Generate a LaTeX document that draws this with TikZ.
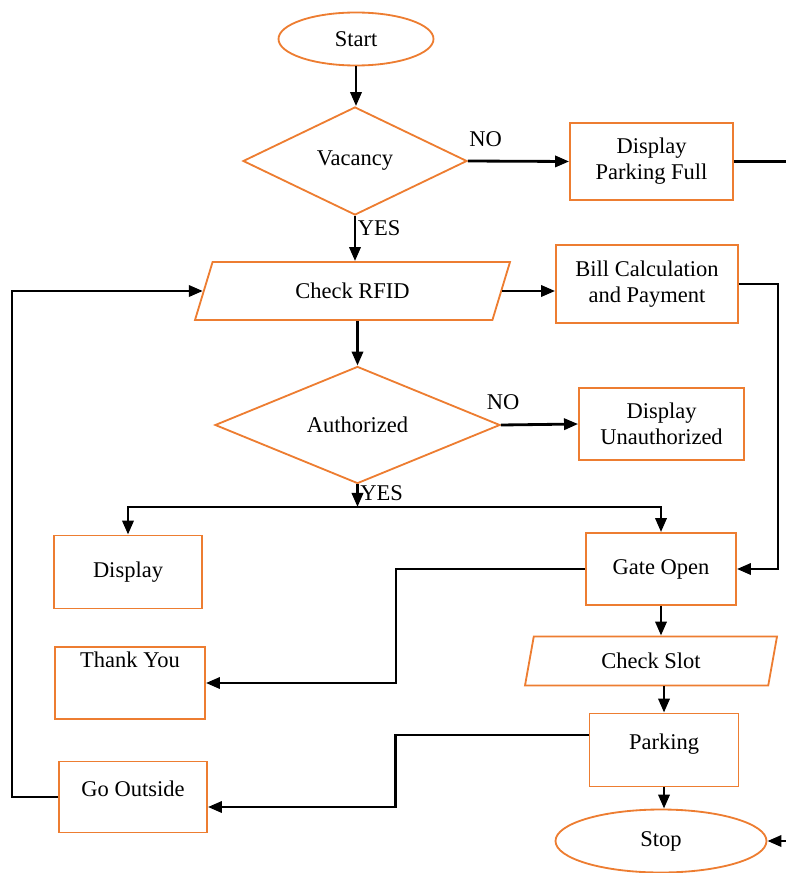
\documentclass[tikz,border=0pt]{standalone}
\usepackage{fontspec}
\setmainfont{Liberation Serif}
\usetikzlibrary{shapes.geometric,
                arrows.meta, % for triangle tips
                positioning}
\definecolor{boxorange}{RGB}{237,125,49}

\begin{document}
\begin{tikzpicture}[x=0.025cm, y=-0.025cm,
                    font=\fontsize{16}{18.5}\selectfont,
                    term/.style={draw=boxorange, line width=1.3pt, ellipse, inner sep=0},
                    decision/.style={draw=boxorange, line width=1.3pt, diamond, inner sep=0},
                    box/.style={draw=boxorange, line width=1.3pt, rectangle, align=center, inner sep=0},
                    io/.style={draw=boxorange, line width=1.3pt, trapezium, trapezium stretches body, inner sep=0},
                    arrow/.style={-{Triangle[length=10pt,width=8pt]}, line width=2pt},
                    answer/.style={inner sep=1pt}
                    ]
    \newdimen \pixel
    \pixel = 0.025cm
    \useasboundingbox (0,0) rectangle (785,873);
    %main column
    \node[term, minimum width=155\pixel, minimum height=53\pixel]  at (356,39)    (start){Start};
    \node[decision, minimum width=224\pixel, minimum height=108\pixel] at (355,161) (vacancy){Vacancy};
    \node[io, trapezium left angle=42, trapezium right angle=138,
          minimum width=315\pixel, minimum height=58\pixel]        at (352.5,291) (rfid){Check RFID};
    \node[decision, minimum width=285\pixel, minimum height=104\pixel] at (357.5,425) (auth){Authorized};
    %right column
    \node[box, minimum width=163\pixel, minimum height=77\pixel]   at (651.5,161.5) (full){Display\\Parking Full};
    \node[box, minimum width=182\pixel, minimum height=78\pixel]   at (647,284)   (bill){Bill Calculation\\and Payment};
    \node[box, minimum width=165\pixel, minimum height=72\pixel]   at (661.5,424) (unauth){Display\\Unauthorized};
    \node[box, minimum width=150\pixel, minimum height=72\pixel]   at (661,569)   (gate){Gate Open};
    \node[io, trapezium left angle=61, trapezium right angle=119,
          minimum width=252\pixel, minimum height=49\pixel]        at (651,661)   (slot){Check Slot};
    \node[box, minimum width=149\pixel, minimum height=73\pixel, text depth=16\pixel] at (664,750) (parking){Parking};
    \node[term, minimum width=211\pixel, minimum height=63\pixel]  at (661,841)   (stop){Stop};
    %left column
    \node[box, minimum width=148\pixel, minimum height=73\pixel]   at (128,572)   (disp){Display};
    \node[box, minimum width=150\pixel, minimum height=72\pixel, text depth=47\pixel] at (130,683) (thanks){Thank You};
    \node[box, minimum width=148\pixel, minimum height=71\pixel, text depth=16\pixel] at (133,797) (outside){Go Outside};
    \coordinate (split) at (357.5,507);

    \draw[arrow] (start.south) -- (start.south |- vacancy.north);
    \draw[arrow] (vacancy.east) -- (full.west) node[answer, pos=0.175, above=12\pixel] {NO};
    \draw[arrow] (vacancy.south) -- (vacancy.south |- rfid.north) node[answer, pos=0.28, right] {YES};
    \draw[arrow] (rfid.east) -- (rfid.east -| bill.west);
    \draw[arrow] (bill.east) -- ++(39,0) |- (gate.east);
    \draw[arrow] (full.east) -- ++(142,0) |- (stop.east);
    \draw[arrow] (rfid.south -| auth.north) -- (auth.north);
    \draw[arrow] (auth.east) -- (unauth.west) node[answer, pos=0.03, above=12\pixel] {NO};
    \draw[arrow] (auth.south) -- (split) node[answer, pos=0.4, right] {YES};
    \draw[arrow] (split) -| (disp.north);
    \draw[arrow] (split) -| (gate.north);
    \draw[arrow] (gate.west) -- ++(-189,0) |- (thanks.east);
    \draw[arrow] (gate.south) -- (gate.south |- slot.north);
    \draw[arrow] (slot.south -| parking.north) -- (parking.north);
    \draw[arrow] (parking.south) -- (parking.south |- stop.north);
    \draw[arrow] ([yshift=15\pixel]parking.west) -- ++(-193,0) |- ([yshift=-10\pixel]outside.east);
    \draw[arrow] (outside.west) -- ++(-46,0) |- (rfid.west);

\end{tikzpicture}
\end{document}
